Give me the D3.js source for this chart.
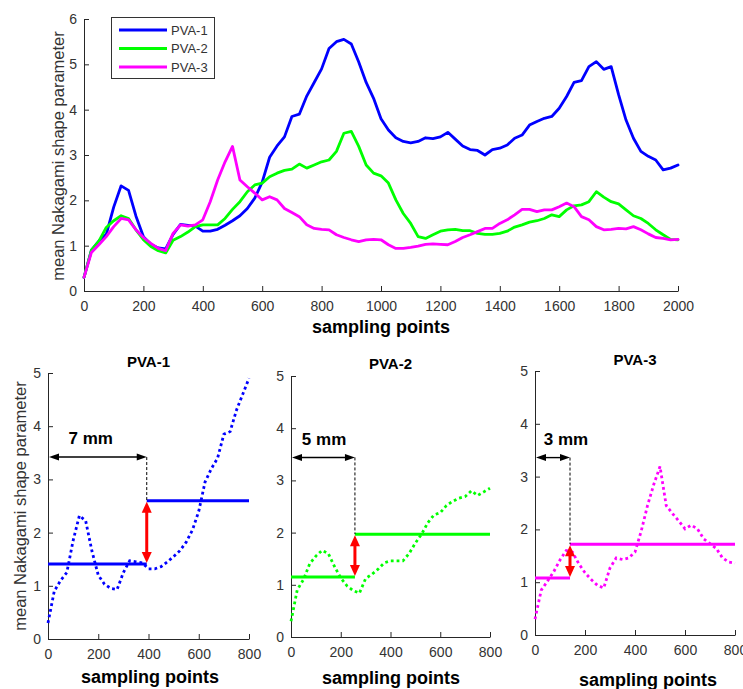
<!DOCTYPE html>
<html><head><meta charset="utf-8">
<script src="https://cdn.jsdelivr.net/npm/d3@7"></script>
<style>
body{margin:0;background:#fff}
svg{display:block;font-family:Arial,"Liberation Sans",sans-serif}
</style>
</head><body>
<svg id="c" width="743" height="689"></svg>
<script>
// ---------- data ----------
const samplingPoints = [0,25,50,75,100,125,150,175,200,225,250,275,300,325,350,375,400,425,450,475,500,525,550,575,600,625,650,675,700,725,750,775,800,825,850,875,900,925,950,975,1000,1025,1050,1075,1100,1125,1150,1175,1200,1225,1250,1275,1300,1325,1350,1375,1400,1425,1450,1475,1500,1525,1550,1575,1600,1625,1650,1675,1700,1725,1750,1775,1800,1825,1850,1875,1900,1925,1950,1975,2000];
const pva1 = [0.3,0.9,1.1,1.25,1.85,2.32,2.22,1.65,1.2,1.03,0.95,0.93,1.25,1.47,1.45,1.43,1.32,1.32,1.36,1.45,1.55,1.66,1.82,2.05,2.4,2.95,3.2,3.4,3.85,3.9,4.3,4.6,4.9,5.35,5.5,5.55,5.45,5.05,4.6,4.25,3.8,3.55,3.38,3.3,3.27,3.3,3.38,3.36,3.4,3.5,3.35,3.2,3.12,3.1,3.0,3.12,3.15,3.22,3.37,3.44,3.66,3.74,3.81,3.85,4.03,4.29,4.6,4.64,4.95,5.06,4.89,4.95,4.33,3.77,3.37,3.08,2.97,2.89,2.67,2.71,2.78];
const pva2 = [0.3,0.9,1.1,1.4,1.55,1.66,1.6,1.35,1.13,0.98,0.89,0.84,1.12,1.2,1.3,1.42,1.46,1.46,1.46,1.6,1.8,1.97,2.19,2.34,2.38,2.52,2.6,2.66,2.69,2.8,2.71,2.78,2.85,2.89,3.08,3.48,3.52,3.19,2.78,2.6,2.54,2.38,2.01,1.71,1.49,1.2,1.16,1.24,1.32,1.35,1.36,1.33,1.33,1.27,1.25,1.25,1.27,1.32,1.41,1.46,1.52,1.55,1.6,1.68,1.64,1.79,1.88,1.9,1.97,2.19,2.07,1.97,1.92,1.79,1.66,1.6,1.49,1.35,1.24,1.14,1.13];
const pva3 = [0.3,0.85,1.02,1.2,1.42,1.6,1.57,1.35,1.18,1.05,0.94,0.89,1.27,1.46,1.43,1.46,1.57,1.97,2.45,2.85,3.19,2.45,2.3,2.16,2.01,2.08,2.01,1.82,1.73,1.64,1.46,1.38,1.36,1.35,1.24,1.18,1.13,1.09,1.13,1.14,1.13,1.02,0.94,0.94,0.96,0.99,1.03,1.04,1.03,1.02,1.09,1.18,1.24,1.31,1.38,1.38,1.49,1.57,1.68,1.8,1.8,1.75,1.79,1.79,1.86,1.94,1.86,1.64,1.57,1.42,1.35,1.36,1.38,1.37,1.42,1.35,1.26,1.18,1.16,1.13,1.14];
const seriesNames = ["PVA-1","PVA-2","PVA-3"];
const seriesColors = ["#0000ff","#00ff00","#ff00ff"];
const topXTicks = [0,200,400,600,800,1000,1200,1400,1600,1800,2000];
const topYTicks = [0,1,2,3,4,5,6];
const panelXTicks = [0,200,400,600,800];
const panelYTicks = [0,1,2,3,4,5];
// step annotation values for the three lower panels
const stepPoint = [393,257,140];
const lowLevel = [1.41,1.15,1.08];
const highLevel = [2.6,1.97,1.72];
const arrowLevel = [3.42,3.44,3.36];
const distLabels = ["7 mm","5 mm","3 mm"];
const distLabelX = [170,133,124];
const distLabelY = [3.78,3.79,3.71];

// ---------- layout ----------
const svg = d3.select("#c");
const axisColor = "#262626";
const textColor = "#333";
const allSeries = [pva1,pva2,pva3];
const fmt = d3.format("d");

function styleAxis(g){
  g.selectAll("path.domain").attr("stroke",axisColor).attr("stroke-width",1);
  g.selectAll(".tick line").attr("stroke",axisColor).attr("stroke-width",1);
  g.selectAll(".tick text").attr("fill",textColor).style("font-size","14px").style("font-family","Arial,'Liberation Sans',sans-serif");
}

// ---------- top chart ----------
const tx = d3.scaleLinear().domain([0,2000]).range([84,678]);
const ty = d3.scaleLinear().domain([0,6]).range([291,19]);
const topG = svg.append("g");
topG.append("g").attr("transform","translate(0,291)")
  .call(d3.axisBottom(tx).tickValues(topXTicks).tickFormat(fmt).tickSizeInner(-5).tickSizeOuter(0).tickPadding(10))
  .call(styleAxis);
topG.append("g").attr("transform","translate(84,0)")
  .call(d3.axisLeft(ty).tickValues(topYTicks).tickFormat(fmt).tickSizeInner(-5).tickSizeOuter(0).tickPadding(7))
  .call(styleAxis);

const topLine = d3.line().x((d,i)=>tx(samplingPoints[i])).y(d=>ty(d));
allSeries.forEach((s,k)=>{
  topG.append("path").datum(s).attr("d",topLine)
    .attr("fill","none").attr("stroke",seriesColors[k]).attr("stroke-width",2.8)
    .attr("stroke-linejoin","round").attr("stroke-linecap","round");
});

topG.append("text").attr("x",381).attr("y",327).attr("text-anchor","middle").attr("dy","0.35em")
  .style("font-weight","bold").style("font-size","18px").attr("fill","#000").text("sampling points");
topG.append("text").attr("transform","translate(58,156) rotate(-90)").attr("text-anchor","middle").attr("dy","0.35em")
  .style("font-size","16.5px").attr("fill",textColor).text("mean Nakagami shape parameter");

// legend
const lg = topG.append("g");
lg.append("rect").attr("x",111.5).attr("y",17.5).attr("width",103).attr("height",61)
  .attr("fill","#fff").attr("stroke","#333").attr("stroke-width",1);
seriesNames.forEach((n,k)=>{
  const yy = 30 + k*18.5;
  lg.append("line").attr("x1",119).attr("x2",167).attr("y1",yy).attr("y2",yy)
    .attr("stroke",seriesColors[k]).attr("stroke-width",2.8);
  lg.append("text").attr("x",171).attr("y",yy).attr("dy","0.35em")
    .style("font-size","13px").attr("fill",textColor).text(n);
});

// ---------- bottom panels ----------
const panels = [
  {x0:48,x1:249,y0:639,y5:373,titleY:362,xlabX:150,xlabY:677},
  {x0:291,x1:490,y0:637,y5:376,titleY:364,xlabX:391,xlabY:678},
  {x0:535,x1:735,y0:635,y5:371,titleY:360,xlabX:648,xlabY:680}
];

function arrowHead(g, xTip, yTip, dx, dy, len, half, color){
  const bx = xTip - dx*len, by = yTip - dy*len;
  const px = -dy, py = dx;
  g.append("path").attr("d",`M${xTip},${yTip}L${bx+px*half},${by+py*half}L${bx-px*half},${by-py*half}Z`)
    .attr("fill",color);
}

panels.forEach((p,k)=>{
  const px = d3.scaleLinear().domain([0,800]).range([p.x0,p.x1]);
  const py = d3.scaleLinear().domain([0,5]).range([p.y0,p.y5]);
  const g = svg.append("g");
  g.append("g").attr("transform",`translate(0,${p.y0})`)
    .call(d3.axisBottom(px).tickValues(panelXTicks).tickFormat(fmt).tickSizeInner(-5).tickSizeOuter(0).tickPadding(10))
    .call(styleAxis);
  g.append("g").attr("transform",`translate(${p.x0},0)`)
    .call(d3.axisLeft(py).tickValues(panelYTicks).tickFormat(fmt).tickSizeInner(-5).tickSizeOuter(0).tickPadding(7))
    .call(styleAxis);

  const idx = samplingPoints.map((v,i)=>i).filter(i=>samplingPoints[i]<=800);
  const line = d3.line().x(i=>px(samplingPoints[i])).y(i=>py(allSeries[k][i]));
  g.append("path").datum(idx).attr("d",line).attr("fill","none")
    .attr("stroke",seriesColors[k]).attr("stroke-width",2.8).attr("stroke-dasharray","2.8,3");

  const sx = px(stepPoint[k]);
  g.append("line").attr("x1",px(0)).attr("x2",sx).attr("y1",py(lowLevel[k])).attr("y2",py(lowLevel[k]))
    .attr("stroke",seriesColors[k]).attr("stroke-width",3);
  g.append("line").attr("x1",sx).attr("x2",px(800)).attr("y1",py(highLevel[k])).attr("y2",py(highLevel[k]))
    .attr("stroke",seriesColors[k]).attr("stroke-width",3);

  g.append("line").attr("x1",sx).attr("x2",sx).attr("y1",py(arrowLevel[k])).attr("y2",py(highLevel[k]))
    .attr("stroke","#000").attr("stroke-width",1).attr("stroke-dasharray","3,2");

  const ay = py(arrowLevel[k]);
  g.append("line").attr("x1",px(0)+6).attr("x2",sx-6).attr("y1",ay).attr("y2",ay)
    .attr("stroke","#000").attr("stroke-width",1.4);
  arrowHead(g, px(0)+1, ay, -1, 0, 10, 3.5, "#000");
  arrowHead(g, sx, ay, 1, 0, 10, 3.5, "#000");

  const yHi = py(highLevel[k]) + 1, yLo = py(lowLevel[k]) - 1;
  g.append("line").attr("x1",sx).attr("x2",sx).attr("y1",yHi+8).attr("y2",yLo-8)
    .attr("stroke","#ff0000").attr("stroke-width",3);
  arrowHead(g, sx, yHi, 0, -1, 11, 5, "#ff0000");
  arrowHead(g, sx, yLo, 0, 1, 11, 5, "#ff0000");

  g.append("text").attr("x",px(distLabelX[k])).attr("y",py(distLabelY[k])).attr("dy","0.35em")
    .attr("text-anchor","middle").style("font-weight","bold").style("font-size","17px").attr("fill","#000")
    .text(distLabels[k]);

  g.append("text").attr("x",(p.x0+p.x1)/2).attr("y",p.titleY).attr("dy","0.35em").attr("text-anchor","middle")
    .style("font-weight","bold").style("font-size","15px").attr("fill","#000").text(seriesNames[k]);
  g.append("text").attr("x",p.xlabX).attr("y",p.xlabY).attr("dy","0.35em").attr("text-anchor","middle")
    .style("font-weight","bold").style("font-size","18px").attr("fill","#000").text("sampling points");
  if(k===0){
    g.append("text").attr("transform",`translate(20,506) rotate(-90)`).attr("text-anchor","middle").attr("dy","0.35em")
      .style("font-size","16.5px").attr("fill",textColor).text("mean Nakagami shape parameter");
  }
});
</script>
</body></html>
